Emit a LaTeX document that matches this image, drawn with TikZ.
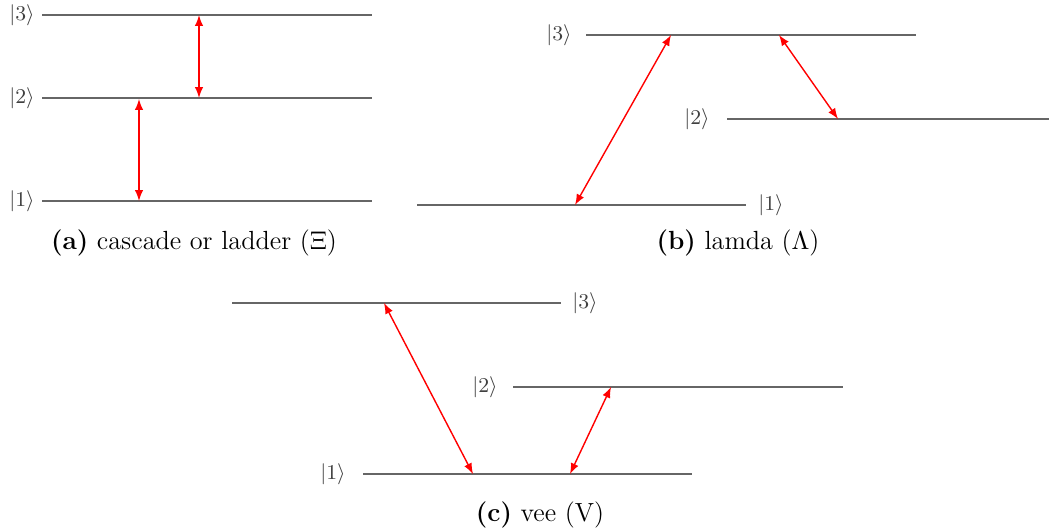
\documentclass[tikz,border=0pt]{standalone}
\usepackage{amsmath,amssymb}
\usepackage{tikz}
\usetikzlibrary{arrows}

\begin{document}
\begin{tikzpicture}[x=0.015cm, y=-0.015cm,
  level/.style={draw=black!60, line width=0.6pt},
  trans/.style={red, line width=0.6pt, latex-latex},
  ket/.style={text=black!75, font=\small, inner sep=0pt},
  capt/.style={font=\fontsize{11.2}{13}\selectfont}]
\useasboundingbox (0,0) rectangle (1049,531);

% (a) cascade
\coordinate (a3l) at (42,15);  \coordinate (a3r) at (372,15);
\coordinate (a2l) at (42,98);  \coordinate (a2r) at (372,98);
\coordinate (a1l) at (42,201); \coordinate (a1r) at (372,201);
\draw[level] (a3l) -- (a3r);
\draw[level] (a2l) -- (a2r);
\draw[level] (a1l) -- (a1r);
\node[ket] (ka3) at (22,15) {$|3\rangle$};
\node[ket] (ka2) at (22,98) {$|2\rangle$};
\node[ket] (ka1) at (22,201) {$|1\rangle$};
\coordinate (a32t) at (199,15); \coordinate (a32b) at (199,98);
\coordinate (a21t) at (139,99); \coordinate (a21b) at (139,201);
\draw[trans] (a32t) -- (a32b);
\draw[trans] (a21t) -- (a21b);
\node[capt] (capa) at (194,243) {\textbf{(a)} cascade or ladder ($\Xi$)};

% (b) lambda
\coordinate (b3l) at (586,35);  \coordinate (b3r) at (916,35);
\coordinate (b2l) at (727,119); \coordinate (b2r) at (1049,119);
\coordinate (b1l) at (417,205); \coordinate (b1r) at (746,205);
\draw[level] (b3l) -- (b3r);
\draw[level] (b2l) -- (b2r);
\draw[level] (b1l) -- (b1r);
\node[ket] (kb3) at (559,35) {$|3\rangle$};
\node[ket] (kb2) at (697,119) {$|2\rangle$};
\node[ket] (kb1) at (771,205) {$|1\rangle$};
\coordinate (b13t) at (671,35);  \coordinate (b13b) at (575,205);
\coordinate (b23t) at (779,35);  \coordinate (b23b) at (838,119);
\draw[trans] (b13t) -- (b13b);
\draw[trans] (b23t) -- (b23b);
\node[capt] (capb) at (738,243) {\textbf{(b)} lamda ($\Lambda$)};

% (c) vee
\coordinate (c3l) at (232,303); \coordinate (c3r) at (561,303);
\coordinate (c2l) at (513,387); \coordinate (c2r) at (843,387);
\coordinate (c1l) at (363,474); \coordinate (c1r) at (692,474);
\draw[level] (c3l) -- (c3r);
\draw[level] (c2l) -- (c2r);
\draw[level] (c1l) -- (c1r);
\node[ket] (kc3) at (585,303) {$|3\rangle$};
\node[ket] (kc2) at (485,387) {$|2\rangle$};
\node[ket] (kc1) at (333,474) {$|1\rangle$};
\coordinate (c13t) at (384,303); \coordinate (c13b) at (473,474);
\coordinate (c12t) at (611,387); \coordinate (c12b) at (570,474);
\draw[trans] (c13t) -- (c13b);
\draw[trans] (c12t) -- (c12b);
\node[capt] (capc) at (540,515) {\textbf{(c)} vee (V)};
\end{tikzpicture}
\end{document}
